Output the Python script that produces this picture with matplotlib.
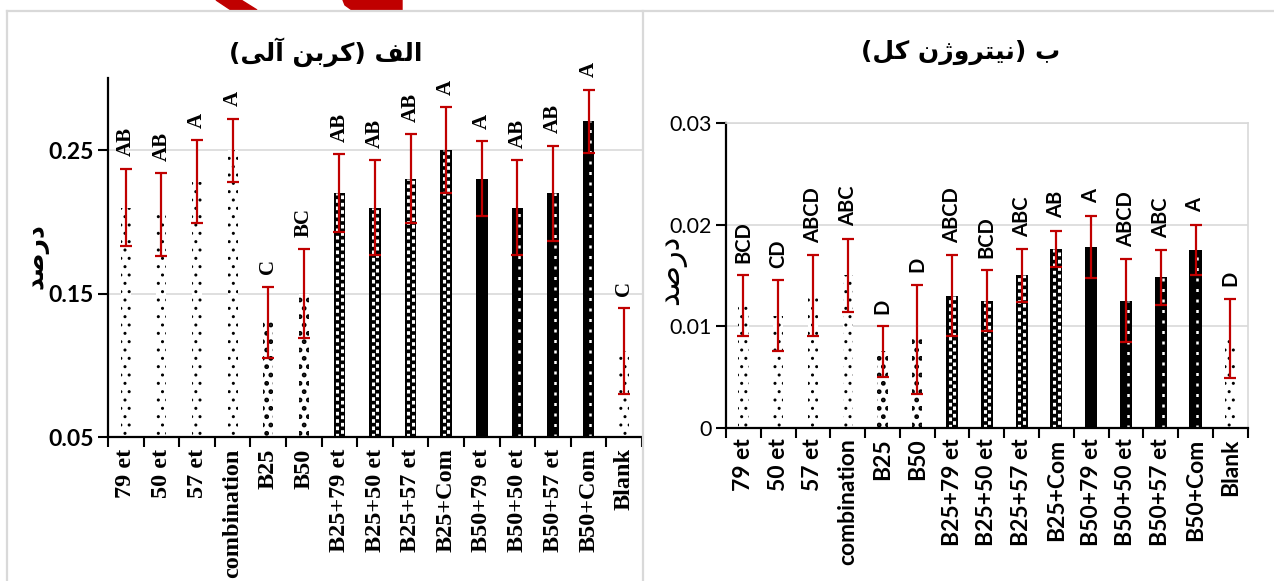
import matplotlib
matplotlib.use("Agg")
import matplotlib.pyplot as plt
from matplotlib.lines import Line2D
from matplotlib.patches import Polygon
import numpy as np

# ---------------- data ----------------
categories = ["79 et", "50 et", "57 et", "combination", "B25", "B50",
              "B25+79 et", "B25+50 et", "B25+57 et", "B25+Com",
              "B50+79 et", "B50+50 et", "B50+57 et", "B50+Com", "Blank"]

carbon_values = [0.21, 0.205, 0.228, 0.25, 0.13, 0.15,
                 0.22, 0.21, 0.23, 0.25, 0.23, 0.21, 0.22, 0.27, 0.11]
carbon_errors = [0.027, 0.029, 0.029, 0.022, 0.025, 0.031,
                 0.027, 0.033, 0.031, 0.030, 0.026, 0.033, 0.033, 0.022, 0.030]
carbon_letters = ["AB", "AB", "A", "A", "C", "BC", "AB", "AB", "AB", "A",
                  "A", "AB", "AB", "A", "C"]

nitrogen_values = [0.012, 0.011, 0.013, 0.015, 0.0075, 0.0087,
                   0.013, 0.0125, 0.015, 0.0176, 0.0178, 0.0125, 0.0148, 0.0175, 0.0088]
nitrogen_errors = [0.003, 0.0035, 0.004, 0.0036, 0.0025, 0.0054,
                   0.004, 0.003, 0.0026, 0.0018, 0.0031, 0.0041, 0.0027, 0.0025, 0.0039]
nitrogen_letters = ["BCD", "CD", "ABCD", "ABC", "D", "D", "ABCD", "BCD", "ABC", "AB",
                    "A", "ABCD", "ABC", "A", "D"]

carbon_ticks = [0.05, 0.15, 0.25]
nitrogen_ticks = [0, 0.01, 0.02, 0.03]
nitrogen_ticklabels = ["0", "0.01", "0.02", "0.03"]

# Persian text (visual order, presentation forms)
title_carbon = "(" + "\uFBFD\uFEDF\uFE81" + " " + "\uFEE6\uFE91\uFEAE\uFB90" + ")" + " " + "\uFED2\uFEDF\uFE8D"
title_nitrogen = "(" + "\uFEDE\uFB90" + " " + "\uFEE5\uFB8A\uFEED\uFEAE\uFE98\uFBFF\uFEE7" + ")" + " " + "\uFE8F"
ylabel_text = "\uFEAA\uFEBB\uFEAD\uFEA9"

# ---------------- styles ----------------
# kind per bar: sparse dots / square dots / black with two dash columns / solid / black with one dash column
kinds = ["sparse", "sparse", "sparse", "sparse", "square", "square",
         "check", "check", "check", "check", "solid", "dash", "dash", "dash", "sparse"]

RED = "#C00000"
W, H = 1274, 581
fig = plt.figure(figsize=(W / 100, H / 100), dpi=100)


def fx(px):
    return px / W


def fy(py):
    return 1 - py / H


# panel borders
for (x0, y0, x1, y1) in [(7, 11, 7, 581), (7, 11, 641, 11), (643, 11, 643, 581), (643, 11, 1274, 11)]:
    fig.add_artist(Line2D([fx(x0), fx(x1)], [fy(y0), fy(y1)], color="#D9D9D9", lw=1.6))

# red decoration at top
fig.add_artist(Polygon([[fx(216), fy(0)], [fx(241), fy(0)], [fx(257), fy(10)], [fx(231), fy(10)]],
                       closed=True, color=RED, transform=fig.transFigure))
fig.add_artist(Polygon([[fx(343), fy(0)], [fx(402), fy(0)], [fx(402), fy(10)], [fx(352), fy(10)],
                        [fx(345), fy(5)]], closed=True, color=RED, transform=fig.transFigure))

x = np.arange(len(categories))


def draw(ax, values, errors, letters, width, letter_font, letter_size, ymin):
    for i in range(len(values)):
        k = kinds[i]
        if k == "sparse":
            with plt.rc_context({"hatch.linewidth": 1.0}):
                ax.bar(x[i], values[i] - ymin, bottom=ymin, width=width * 0.85, color="white",
                       edgecolor="black", hatch="..", linewidth=0, zorder=2)
        elif k == "square":
            with plt.rc_context({"hatch.linewidth": 2.2}):
                ax.bar(x[i], values[i] - ymin, bottom=ymin, width=width * 0.85, color="white",
                       edgecolor="black", hatch="..", linewidth=0, zorder=2)
        else:
            ax.bar(x[i], values[i] - ymin, bottom=ymin, width=width, color="black",
                   linewidth=0, zorder=2)
            if k == "check":
                ax.vlines([x[i] - width * 0.18], ymin, values[i], colors="white", lw=2.2,
                          linestyles=(0, (1.2, 1.2)), zorder=2.5)
                ax.vlines([x[i] + width * 0.18], ymin, values[i], colors="white", lw=2.2,
                          linestyles=(1.2, (1.2, 1.2)), zorder=2.5)
            elif k == "dash":
                ax.vlines([x[i] + width * 0.15], ymin, values[i], colors="white", lw=1.8,
                          linestyles=(0, (1.2, 3.0)), zorder=2.5)
    ax.errorbar(x, values, yerr=errors, fmt="none", ecolor=RED, elinewidth=1.6,
                capsize=4.5, capthick=1.6, zorder=3)
    for i in range(len(values)):
        ax.annotate(letters[i], (x[i], values[i] + errors[i]), xytext=(0, 9),
                    textcoords="offset points", rotation=90, ha="center", va="bottom",
                    fontsize=letter_size, fontweight="bold", family=letter_font)
    ax.set_xlim(-0.5, len(values) - 0.5)
    ax.set_xticks(np.arange(-0.5, len(values), 1.0), minor=False)
    ax.set_xticklabels([])
    ax.set_xticks(x, minor=True)
    ax.tick_params(axis="x", which="major", length=7, width=1.5, direction="out")
    ax.tick_params(axis="x", which="minor", length=0, pad=8)
    ax.tick_params(axis="y", length=7, width=1.5, direction="out")
    ax.grid(axis="y", color="#D9D9D9", lw=1.2, zorder=0)
    ax.set_axisbelow(True)
    for s in ["left", "bottom"]:
        ax.spines[s].set_linewidth(1.6)


# ---------------- left panel ----------------
ax1 = fig.add_axes([fx(108), fy(437.3), fx(642 - 108), (437.3 - 78.3) / H])
draw(ax1, carbon_values, carbon_errors, carbon_letters, 0.33, "Liberation Serif", 15, 0.05)
ax1.set_ylim(0.05, 0.30)
ax1.set_yticks(carbon_ticks)
ax1.set_yticklabels([f"{t:.2f}" for t in carbon_ticks], fontsize=16.5, fontweight="bold", family="Lato")
ax1.set_xticklabels(categories, minor=True, rotation=90, fontsize=17.5, fontweight="bold",
                    family="Liberation Serif")
ax1.spines["top"].set_visible(False)
ax1.spines["right"].set_visible(False)
fig.text(fx(326), fy(52), title_carbon, ha="center", va="center", fontsize=18,
         fontweight="bold", family=["DejaVu Sans"])
fig.text(fx(37), fy(256), ylabel_text, ha="center", va="center", rotation=90, fontsize=18,
         fontweight="bold", family=["DejaVu Sans"])

# ---------------- right panel ----------------
ax2 = fig.add_axes([fx(726), fy(427.5), fx(1247.7 - 726), (427.5 - 123.3) / H])
draw(ax2, nitrogen_values, nitrogen_errors, nitrogen_letters, 0.35, "Lato", 14.5, 0.0)
ax2.set_ylim(0, 0.03)
ax2.set_yticks(nitrogen_ticks)
ax2.set_yticklabels(nitrogen_ticklabels, fontsize=15.5, family="Lato")
ax2.set_xticklabels(categories, minor=True, rotation=90, fontsize=16.5, fontweight="bold",
                    family="Lato")
ax2.spines["top"].set_color("#D9D9D9")
ax2.spines["right"].set_color("#D9D9D9")
ax2.spines["top"].set_linewidth(1.2)
ax2.spines["right"].set_linewidth(1.2)
fig.text(fx(961), fy(52), title_nitrogen, ha="center", va="center", fontsize=18,
         fontweight="bold", family=["DejaVu Sans"])
fig.text(fx(672), fy(270), ylabel_text, ha="center", va="center", rotation=90, fontsize=22,
         family=["DejaVu Sans"])

fig.savefig("out.png", dpi=100)
